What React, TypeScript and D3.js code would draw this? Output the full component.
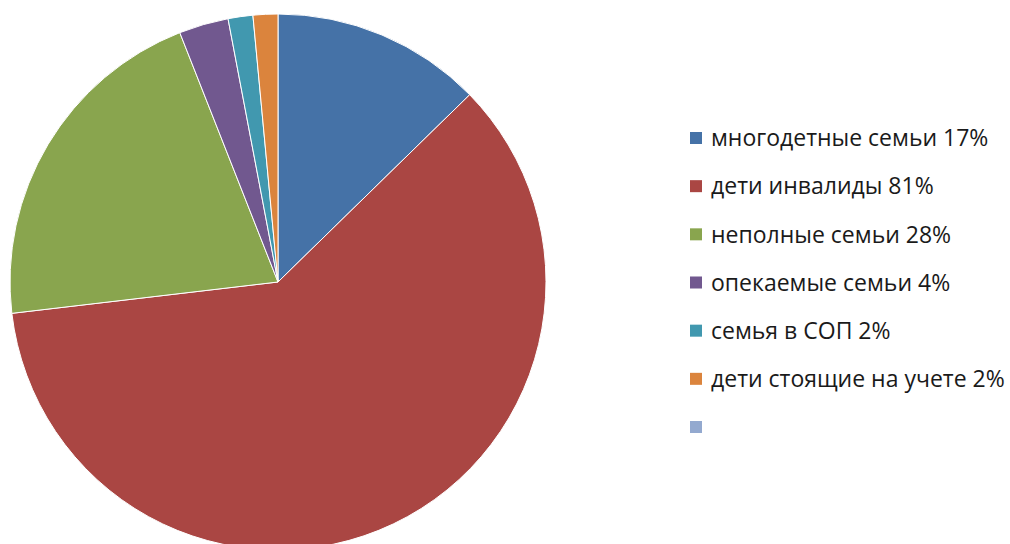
import React from "react";
import * as d3 from "d3";

const categories = [
  "многодетные семьи 17%",
  "дети инвалиды 81%",
  "неполные семьи 28%",
  "опекаемые семьи 4%",
  "семья в СОП 2%",
  "дети стоящие на учете 2%",
  "",
];
const values = [17, 81, 28, 4, 2, 2, 0];
const colors = ["#4572A7", "#AA4643", "#89A54E", "#71588F", "#4198AF", "#DB843D", "#93A9CF"];

export default function App() {
  const W = 1010, H = 544;
  const cx = 278, cy = 282, r = 268;
  const pie = d3.pie<number>().sort(null).value((d) => d);
  const arcs = pie(values);
  const arc = d3.arc<d3.PieArcDatum<number>>().innerRadius(0).outerRadius(r);
  const legendY = d3.scaleLinear().domain([0, 6]).range([138, 427]);
  return (
    <svg width={W} height={H} style={{ position: "absolute", left: 0, top: 0 }}>
      <rect width={W} height={H} fill="#fff" />
      <g transform={`translate(${cx},${cy})`}>
        {arcs.map((a, i) =>
          a.value > 0 ? (
            <path key={i} d={arc(a) || ""} fill={colors[i]} stroke="#fff" strokeWidth={1} />
          ) : null
        )}
      </g>
      {categories.map((c, i) => (
        <g key={i} transform={`translate(690,${legendY(i)})`}>
          <rect x={0} y={-6} width={12} height={12} fill={colors[i]} />
          <text x={21} y={0} dy="0.36em" fontFamily="Open Sans" fontSize={23} fill="#1a1a1a">
            {c}
          </text>
        </g>
      ))}
    </svg>
  );
}
